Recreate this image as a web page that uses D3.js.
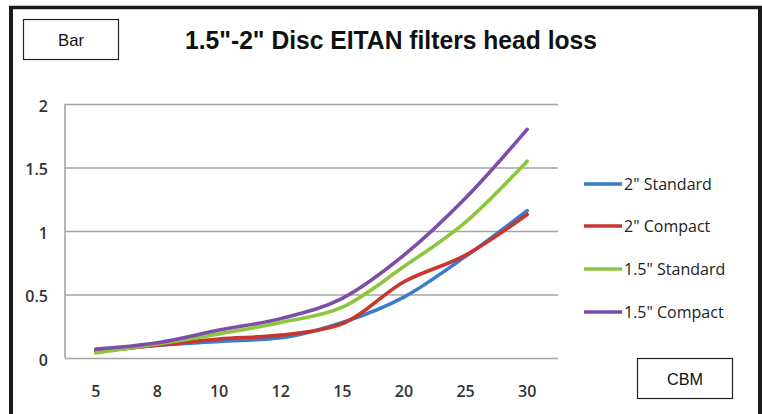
<!DOCTYPE html>
<html><head><meta charset="utf-8">
<script src="https://cdn.jsdelivr.net/npm/d3@7"></script>
<style>
body{margin:0;background:#fff;}
svg{display:block;}
</style></head>
<body>
<script>
const categories = ["5","8","10","12","15","20","25","30"];
const seriesNames = ['2" Standard','2" Compact','1.5" Standard','1.5" Compact'];
const std2 = [0.05,0.10,0.13,0.16,0.28,0.48,0.80,1.16];
const cmp2 = [0.05,0.10,0.15,0.18,0.27,0.60,0.81,1.13];
const std15 = [0.04,0.11,0.19,0.28,0.40,0.72,1.07,1.55];
const cmp15 = [0.07,0.12,0.22,0.31,0.47,0.81,1.26,1.80];
const yTicks = [0,0.5,1,1.5,2];
const colors = ["#3b7dc8","#c9352f","#8cc63e","#7b4ea8"];
const series = [std2,cmp2,std15,cmp15];

const W=762,H=414;
const svg=d3.select("body").append("svg").attr("width",W).attr("height",H);
svg.append("rect").attr("width",W).attr("height",H).attr("fill","#fff");

// frame
svg.append("line").attr("x1",11).attr("x2",11).attr("y1",6).attr("y2",H).attr("stroke","#1a1a1a").attr("stroke-width",4);
svg.append("line").attr("x1",9).attr("x2",762).attr("y1",7.5).attr("y2",7.5).attr("stroke","#1a1a1a").attr("stroke-width",3.5);
svg.append("line").attr("x1",760).attr("x2",760).attr("y1",6).attr("y2",H).attr("stroke","#1a1a1a").attr("stroke-width",4);

const font = "'Liberation Sans Narrow','Arial Narrow','Liberation Sans',Arial,sans-serif";
const cfont = "'Open Sans','Noto Sans',sans-serif";

// Bar box
svg.append("rect").attr("x",23.5).attr("y",19.5).attr("width",95).attr("height",40).attr("fill","#fff").attr("stroke","#222").attr("stroke-width",1.2);
svg.append("text").attr("x",71).attr("y",46).attr("text-anchor","middle").attr("font-family",font).attr("font-size",17)
  .attr("textLength",26).attr("lengthAdjust","spacingAndGlyphs").attr("fill","#111").text("Bar");

// title
svg.append("text").attr("x",185).attr("y",49).attr("font-family",font).attr("font-weight","bold").attr("font-size",26)
  .attr("textLength",412).attr("lengthAdjust","spacingAndGlyphs").attr("fill","#111").text('1.5"-2" Disc EITAN filters head loss');

// CBM box
svg.append("rect").attr("x",637.5).attr("y",358.5).attr("width",95).attr("height",40).attr("fill","#fff").attr("stroke","#222").attr("stroke-width",1.2);
svg.append("text").attr("x",685).attr("y",385).attr("text-anchor","middle").attr("font-family",font).attr("font-size",17)
  .attr("textLength",36).attr("lengthAdjust","spacingAndGlyphs").attr("fill","#111").text("CBM");

const x = d3.scaleBand().domain(categories).range([65,558]);
const y = d3.scaleLinear().domain([0,2]).range([358,104]);

// gridlines
const grid = svg.append("g").attr("transform","translate(65,0)")
  .call(d3.axisLeft(y).tickValues(yTicks).tickSize(-(558-65)).tickFormat(""));
grid.selectAll(".tick line").attr("stroke","#a4a4a4").attr("stroke-width",1.6);
grid.select(".domain").remove();

// left axis line
svg.append("line").attr("x1",65).attr("x2",65).attr("y1",104).attr("y2",358).attr("stroke","#a4a4a4").attr("stroke-width",1.6);

// y labels
const yAx = svg.append("g").attr("transform","translate(48,2)")
  .call(d3.axisLeft(y).tickValues(yTicks).tickSize(0).tickFormat(d=>String(d)));
yAx.select(".domain").remove();
yAx.selectAll("text").attr("font-family",cfont).attr("font-size",16).attr("font-weight",600).attr("fill","#333").attr("x",0);

// x labels
const xAx = svg.append("g").attr("transform","translate(0,391)")
  .call(d3.axisBottom(x).tickSize(0));
xAx.select(".domain").remove();
xAx.selectAll("text").attr("font-family",cfont).attr("font-size",16).attr("font-weight",600).attr("fill","#333")
  .attr("y",0).attr("dy","0.36em");

// lines
const line = d3.line().x((d,i)=>x(categories[i])+x.bandwidth()/2).y(d=>y(d)).curve(d3.curveMonotoneX);
series.forEach((s,k)=>{
  svg.append("path").datum(s).attr("d",line).attr("fill","none").attr("stroke",colors[k])
    .attr("stroke-width",3.6).attr("stroke-linejoin","round").attr("stroke-linecap","round");
});

// legend
const legY=[184,226,269,312];
const leg = svg.append("g");
seriesNames.forEach((n,k)=>{
  const g=leg.append("g").attr("transform",`translate(584,${legY[k]})`);
  g.append("line").attr("x1",0).attr("x2",38).attr("y1",0).attr("y2",0).attr("stroke",colors[k]).attr("stroke-width",3.6);
  g.append("text").attr("x",40).attr("y",6).attr("font-family",cfont).attr("font-size",16).attr("fill","#222").text(n);
});
</script>
</body></html>
